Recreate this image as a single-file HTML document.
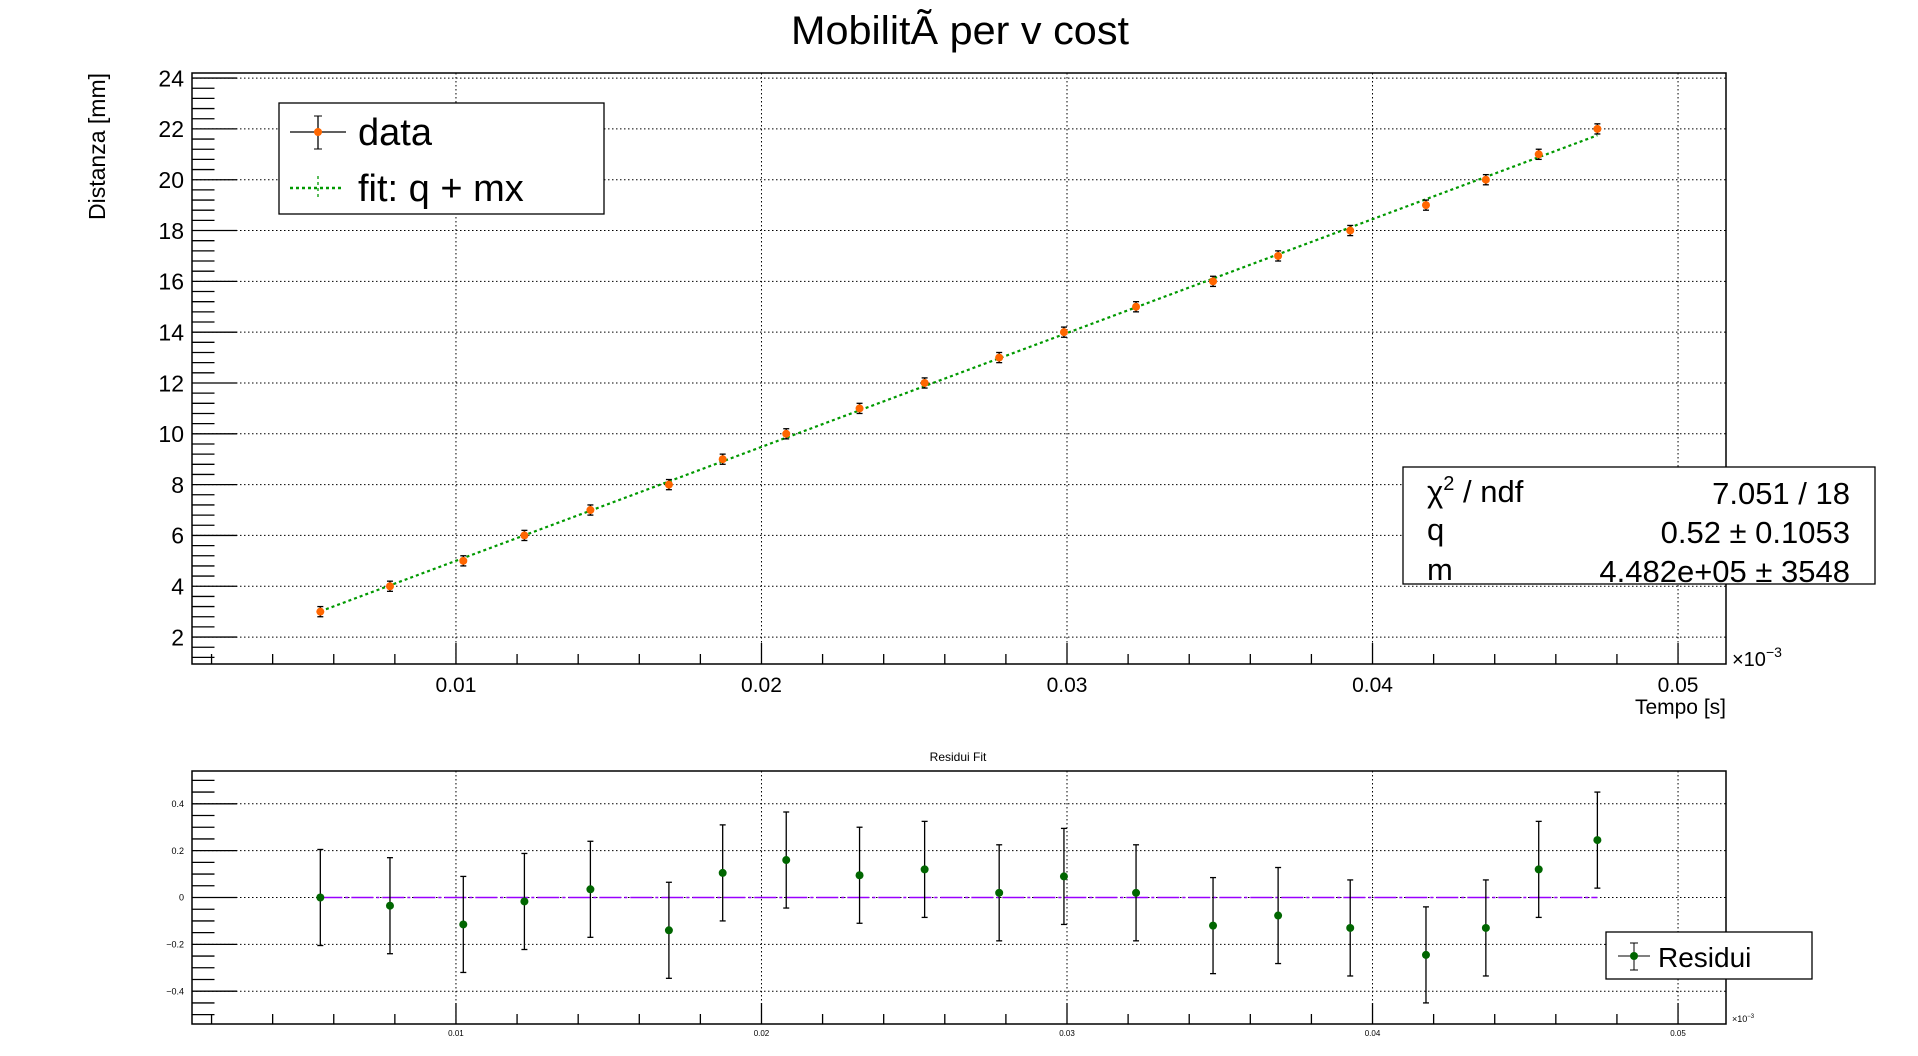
<!DOCTYPE html>
<html><head><meta charset="utf-8"><style>
html,body{margin:0;padding:0;background:#fff;}
svg{display:block;font-family:"Liberation Sans",sans-serif;}
</style></head><body>
<svg id="c" width="1918" height="1056" viewBox="0 0 1918 1056" xmlns="http://www.w3.org/2000/svg">
<rect x="0" y="0" width="1918" height="1056" fill="#fff"/>
<text x="960" y="44" font-size="40" text-anchor="middle" textLength="338" lengthAdjust="spacingAndGlyphs">MobilitÃ  per v cost</text>
<g id="top"></g>
<g id="bot"></g>
<text transform="translate(105,73) rotate(-90)" font-size="23" text-anchor="end">Distanza [mm]</text>
<text x="1726" y="714" font-size="21" text-anchor="end">Tempo [s]</text>
<text x="1732" y="666" font-size="20">×10<tspan font-size="14" dy="-9">−3</tspan></text>
<text x="1732" y="1022" font-size="9">×10<tspan font-size="6" dy="-4">−3</tspan></text>
<text x="958" y="761" font-size="12" text-anchor="middle">Residui Fit</text>
<g>
<rect x="279" y="103" width="325" height="111" fill="#fff" stroke="#000" stroke-width="1.3"/>
<line x1="290" y1="132" x2="346" y2="132" stroke="#000" stroke-width="1.3"/>
<line x1="318" y1="116" x2="318" y2="149" stroke="#000" stroke-width="1.3"/>
<line x1="314" y1="116" x2="322" y2="116" stroke="#000"/><line x1="314" y1="149" x2="322" y2="149" stroke="#000"/>
<circle cx="318" cy="132" r="4" fill="#ff6600"/>
<text x="358" y="145" font-size="38">data</text>
<line x1="290" y1="188" x2="344" y2="188" stroke="#009900" stroke-width="2.5" stroke-dasharray="3,3"/>
<line x1="318" y1="176" x2="318" y2="200" stroke="#009900" stroke-width="1.3" stroke-dasharray="3,3"/>
<text x="358" y="201" font-size="38">fit: q + mx</text>
</g>
<g>
<rect x="1403" y="467" width="472" height="117" fill="#fff" stroke="#000" stroke-width="1.3"/>
<text x="1427" y="502" font-size="31">χ<tspan font-size="20" dy="-12">2</tspan><tspan dy="12"> / ndf</tspan></text>
<text x="1850" y="504" font-size="31" text-anchor="end">7.051 / 18</text>
<text x="1427" y="540" font-size="31">q</text>
<text x="1850" y="543" font-size="31" text-anchor="end">0.52 ± 0.1053</text>
<text x="1427" y="580" font-size="31">m</text>
<text x="1850" y="582" font-size="31" text-anchor="end">4.482e+05 ±  3548</text>
</g>
<g>
<rect x="1606" y="932" width="206" height="47" fill="#fff" stroke="#000" stroke-width="1.3"/>
<line x1="1618" y1="956" x2="1650" y2="956" stroke="#000"/>
<line x1="1634" y1="943" x2="1634" y2="970" stroke="#000"/>
<line x1="1630" y1="943" x2="1638" y2="943" stroke="#000"/><line x1="1630" y1="970" x2="1638" y2="970" stroke="#000"/>
<circle cx="1634" cy="956" r="4" fill="#006600"/>
<text x="1658" y="967" font-size="28">Residui</text>
</g>
</svg>
<script>
const xVals=[0.00556,0.00784,0.01024,0.01224,0.01440,0.01697,0.01873,0.02081,0.02321,0.02534,0.02778,0.02990,0.03226,0.03478,0.03691,0.03927,0.04175,0.04371,0.04544,0.04736];
const yVals=[3,4,5,6,7,8,9,10,11,12,13,14,15,16,17,18,19,20,21,22];
const yErr=[0.2,0.2,0.2,0.2,0.2,0.2,0.2,0.2,0.2,0.2,0.2,0.2,0.2,0.2,0.2,0.2,0.2,0.2,0.2,0.2];
const resVals=[0,-0.035,-0.115,-0.017,0.035,-0.14,0.105,0.16,0.095,0.12,0.02,0.09,0.02,-0.12,-0.077,-0.13,-0.245,-0.13,0.12,0.245];
const resErr=[0.205,0.205,0.205,0.205,0.205,0.205,0.205,0.205,0.205,0.205,0.205,0.205,0.205,0.205,0.205,0.205,0.205,0.205,0.205,0.205];
const fitQ=0.52, fitM=448.2;
const xTicks=[0.01,0.02,0.03,0.04,0.05];
const xTickLabels=["0.01","0.02","0.03","0.04","0.05"];
const yTicks=[2,4,6,8,10,12,14,16,18,20,22,24];
const resTicks=[-0.4,-0.2,0,0.2,0.4];
const resTickLabels=["−0.4","−0.2","0","0.2","0.4"];

const NS="http://www.w3.org/2000/svg";
function mk(p,t,a){const e=document.createElementNS(NS,t);for(const k in a)e.setAttribute(k,a[k]);p.appendChild(e);return e;}
const L=192,R=1726;
const xmin=0.00136,xmax=0.05157;
const X=v=>L+(v-xmin)/(xmax-xmin)*(R-L);

function panel(g,T,B,ymin,ymax,yMajor,yMinorStep,yLabels,ySize,xSize,xLabY,yMajLen){
  const Y=v=>B-(v-ymin)/(ymax-ymin)*(B-T);
  xTicks.forEach(v=>{const l=mk(g,'line',{x1:X(v),x2:X(v),y1:T,y2:B,stroke:'#000','stroke-width':1,'stroke-dasharray':'1.5,2.5'});
    });
  yMajor.forEach(v=>{const l=mk(g,'line',{x1:L,x2:R,y1:Y(v),y2:Y(v),stroke:'#000','stroke-width':1,'stroke-dasharray':'1.5,2.5'});
    });
  for(let v=Math.ceil(ymin/yMinorStep-1e-6)*yMinorStep;v<=ymax+1e-9;v+=yMinorStep){
    const isMaj=yMajor.some(m=>Math.abs(m-v)<1e-6);
    const l=mk(g,'line',{x1:L,x2:L+(isMaj?yMajLen:yMajLen/2),y1:Y(v),y2:Y(v),stroke:'#000','stroke-width':1.3});
    
  }
  yMajor.forEach((v,i)=>{const t=mk(g,'text',{x:L-8,y:Y(v)+ySize*0.36,'font-size':ySize,'text-anchor':'end'});t.textContent=yLabels[i];
    });
  for(let k=1;k<=25;k++){const v=k*0.002; if(v<xmin||v>xmax)continue;
    const isMaj=k%5===0;
    const l=mk(g,'line',{x1:X(v),x2:X(v),y1:B,y2:B-(isMaj?21:10),stroke:'#000','stroke-width':1.3});
    }
  xTicks.forEach((v,i)=>{const t=mk(g,'text',{x:X(v),y:xLabY,'font-size':xSize,'text-anchor':'middle'});t.textContent=xTickLabels[i];
    });
  const f=mk(g,'rect',{x:L,y:T,width:R-L,height:B-T,fill:'none',stroke:'#000','stroke-width':1.5});
  
  return Y;
}
const gt=document.getElementById('top'), gb=document.getElementById('bot');
const Yt=panel(gt,73,664,0.94,24.2,yTicks,0.4,yTicks.map(String),23,21,692,45);
const Yb=panel(gb,771,1024,-0.54,0.54,resTicks,0.05,resTickLabels,9,8,1036,45);

const x0=xVals[0],x1=xVals[xVals.length-1];
const fl=mk(gt,'line',{x1:X(x0),y1:Yt(fitQ+fitM*x0),x2:X(x1),y2:Yt(fitQ+fitM*x1),stroke:'#009900','stroke-width':2.2,'stroke-dasharray':'3,3'});


xVals.forEach((v,i)=>{
  const cx=X(v),cy=Yt(yVals[i]),e1=Yt(yVals[i]+yErr[i]),e2=Yt(yVals[i]-yErr[i]);
  const g=mk(gt,'g',{});
  
  
  mk(g,'line',{x1:cx,x2:cx,y1:e1,y2:e2,stroke:'#000','stroke-width':1.5});
  mk(g,'line',{x1:cx-3,x2:cx+3,y1:e1,y2:e1,stroke:'#000','stroke-width':1.3});
  mk(g,'line',{x1:cx-3,x2:cx+3,y1:e2,y2:e2,stroke:'#000','stroke-width':1.3});
  mk(g,'circle',{cx:cx,cy:cy,r:4,fill:'#ff6600'});
});
const zl=mk(gb,'line',{x1:X(x0),y1:Yb(0),x2:X(x1),y2:Yb(0),stroke:'#9900ff','stroke-width':1.5,'stroke-dasharray':'22,3,3,3'});


xVals.forEach((v,i)=>{
  const cx=X(v),cy=Yb(resVals[i]),e1=Yb(resVals[i]+resErr[i]),e2=Yb(resVals[i]-resErr[i]);
  const g=mk(gb,'g',{});
  
  
  mk(g,'line',{x1:cx,x2:cx,y1:e1,y2:e2,stroke:'#000','stroke-width':1.3});
  mk(g,'line',{x1:cx-3,x2:cx+3,y1:e1,y2:e1,stroke:'#000','stroke-width':1.3});
  mk(g,'line',{x1:cx-3,x2:cx+3,y1:e2,y2:e2,stroke:'#000','stroke-width':1.3});
  mk(g,'circle',{cx:cx,cy:cy,r:4,fill:'#006600'});
});
</script>
</body></html>
